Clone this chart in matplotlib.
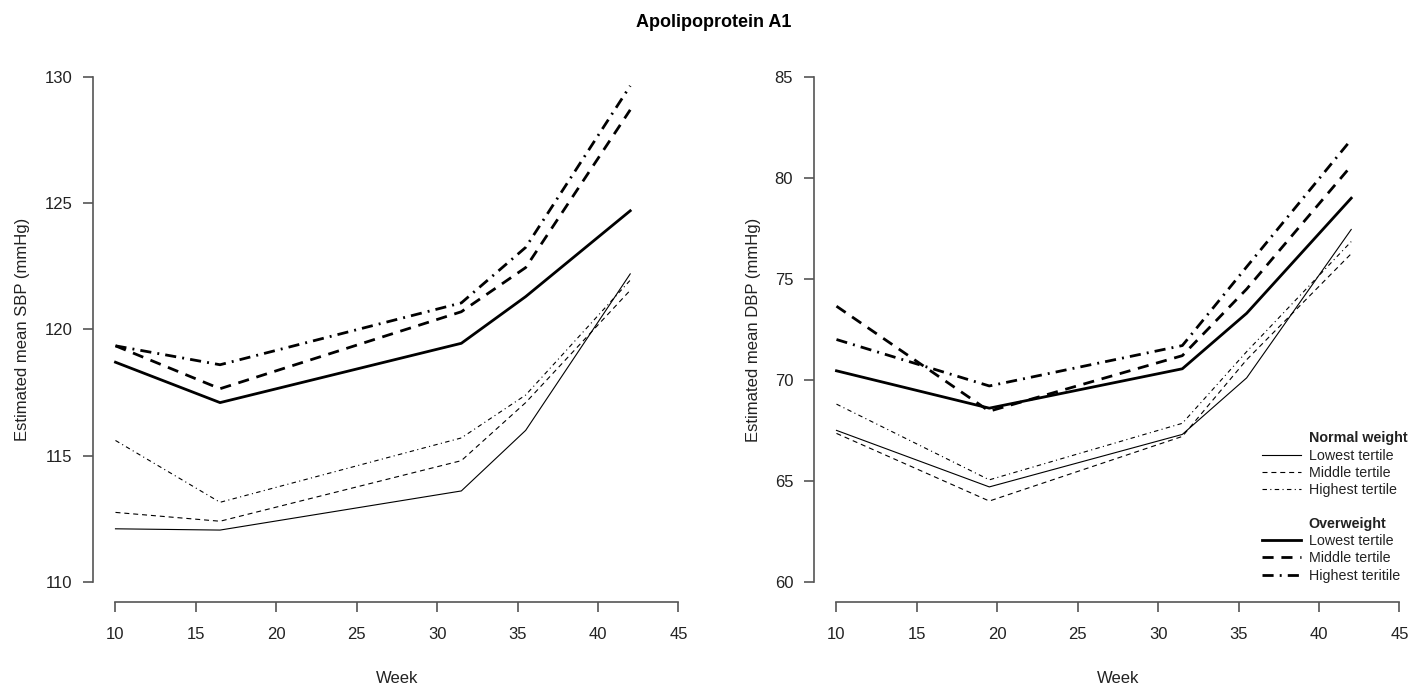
import matplotlib
matplotlib.use("Agg")
import matplotlib.pyplot as plt
from matplotlib.lines import Line2D

plt.rcParams['font.family'] = ['Liberation Sans', 'DejaVu Sans']

# ---- data ----
weeks_sbp = [10, 16.5, 31.5, 35.5, 42]
weeks_dbp = [10, 19.5, 31.5, 35.5, 42]

sbp_nw_low = [112.1, 112.05, 113.6, 116.0, 122.2]
sbp_nw_mid = [112.75, 112.4, 114.8, 117.1, 121.55]
sbp_nw_high = [115.6, 113.15, 115.7, 117.4, 121.95]
sbp_ow_low = [118.7, 117.1, 119.45, 121.3, 124.7]
sbp_ow_mid = [119.35, 117.65, 120.7, 122.45, 128.7]
sbp_ow_high = [119.35, 118.6, 121.05, 123.25, 129.65]

dbp_nw_low = [67.5, 64.7, 67.3, 70.1, 77.45]
dbp_nw_mid = [67.35, 64.0, 67.2, 71.0, 76.25]
dbp_nw_high = [68.8, 65.05, 67.85, 71.4, 76.85]
dbp_ow_low = [70.45, 68.6, 70.55, 73.3, 79.0]
dbp_ow_mid = [73.65, 68.45, 71.2, 74.5, 80.6]
dbp_ow_high = [72.0, 69.7, 71.7, 75.6, 81.9]

x_ticks = [10, 15, 20, 25, 30, 35, 40, 45]
sbp_ticks = [110, 115, 120, 125, 130]
dbp_ticks = [60, 65, 70, 75, 80, 85]

legend_labels = ["Normal weight", "Lowest tertile", "Middle tertile", "Highest tertile",
                 "", "Overweight", "Lowest tertile", "Middle tertile", "Highest teritile"]

# ---- styles ----
thin = 0.8
thick = 2.0
st_nw_low = dict(color='black', lw=thin, linestyle='-')
st_nw_mid = dict(color='black', lw=thin, linestyle=(0, (4.5, 3.5)))
st_nw_high = dict(color='black', lw=thin, linestyle=(0, (4, 3, 1, 3)))
st_ow_low = dict(color='black', lw=thick, linestyle='-')
st_ow_mid = dict(color='black', lw=thick, linestyle=(0, (4, 2.8)))
st_ow_high = dict(color='black', lw=thick, linestyle=(0, (4, 2.2, 0.7, 2.2)))

axis_color = '#555555'

fig = plt.figure(figsize=(14.28, 6.88), dpi=100)
ax1 = fig.add_axes([0.0651, 0.125, 0.4258, 0.7924])
ax2 = fig.add_axes([0.5700, 0.125, 0.4258, 0.7924])

def style_axis(ax, yticks, ylabel):
    ax.set_xlim(8.6, 46.4)
    rng = yticks[-1] - yticks[0]
    ax.set_ylim(yticks[0] - 0.04 * rng, yticks[-1] + 0.04 * rng)
    for s in ['top', 'right']:
        ax.spines[s].set_visible(False)
    ax.spines['left'].set_bounds(yticks[0], yticks[-1])
    ax.spines['bottom'].set_bounds(x_ticks[0], x_ticks[-1])
    for s in ['left', 'bottom']:
        ax.spines[s].set_color(axis_color)
        ax.spines[s].set_linewidth(1.2)
    ax.set_xticks(x_ticks)
    ax.set_yticks(yticks)
    ax.tick_params(axis='both', direction='out', length=7, width=1.2,
                   color=axis_color, labelsize=12, labelcolor='#222222')
    ax.tick_params(axis='x', pad=11)
    ax.tick_params(axis='y', pad=8)
    ax.set_xlabel('Week', fontsize=12, labelpad=21, color='#222222')
    ax.set_ylabel(ylabel, fontsize=12, labelpad=10, color='#222222')

ax1.plot(weeks_sbp, sbp_nw_low, **st_nw_low)
ax1.plot(weeks_sbp, sbp_nw_mid, **st_nw_mid)
ax1.plot(weeks_sbp, sbp_nw_high, **st_nw_high)
ax1.plot(weeks_sbp, sbp_ow_low, **st_ow_low)
ax1.plot(weeks_sbp, sbp_ow_mid, **st_ow_mid)
ax1.plot(weeks_sbp, sbp_ow_high, **st_ow_high)
style_axis(ax1, sbp_ticks, 'Estimated mean SBP (mmHg)')

ax2.plot(weeks_dbp, dbp_nw_low, **st_nw_low)
ax2.plot(weeks_dbp, dbp_nw_mid, **st_nw_mid)
ax2.plot(weeks_dbp, dbp_nw_high, **st_nw_high)
ax2.plot(weeks_dbp, dbp_ow_low, **st_ow_low)
ax2.plot(weeks_dbp, dbp_ow_mid, **st_ow_mid)
ax2.plot(weeks_dbp, dbp_ow_high, **st_ow_high)
style_axis(ax2, dbp_ticks, 'Estimated mean DBP (mmHg)')

blank = Line2D([], [], color='none')
handles = [blank, Line2D([], [], **st_nw_low), Line2D([], [], **st_nw_mid),
           Line2D([], [], **st_nw_high), blank, blank,
           Line2D([], [], **st_ow_low), Line2D([], [], **st_ow_mid),
           Line2D([], [], **st_ow_high)]
leg = fig.legend(handles, legend_labels, loc='upper left',
                 bbox_to_anchor=(0.8838, 0.373), bbox_transform=fig.transFigure,
                 frameon=False, fontsize=10.3, borderpad=0, borderaxespad=0,
                 handlelength=2.7, handletextpad=0.55, labelspacing=0.22)
for i, t in enumerate(leg.get_texts()):
    t.set_color('#222222')
    if legend_labels[i] in ("Normal weight", "Overweight"):
        t.set_fontweight('bold')

fig.suptitle('Apolipoprotein A1', fontsize=13, fontweight='bold', y=0.98)

fig.savefig('out.png', dpi=100)
